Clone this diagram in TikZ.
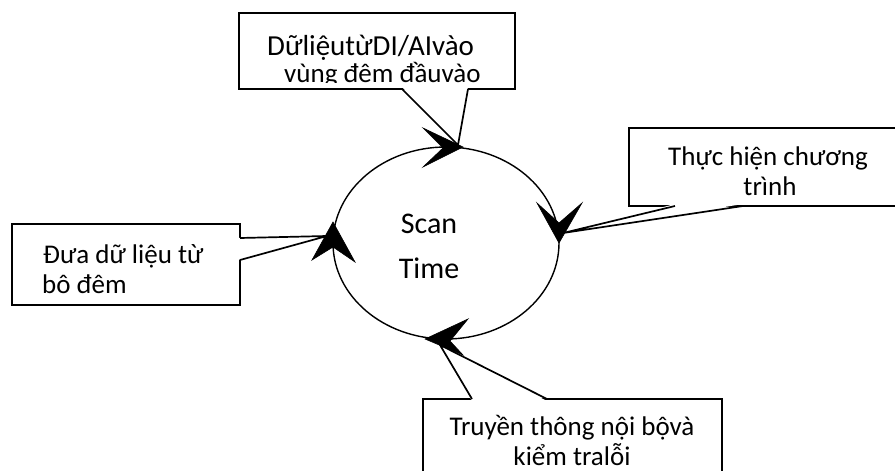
\documentclass[tikz,border=0pt]{standalone}
\usepackage{fontspec}
\setmainfont{Carlito}
\usetikzlibrary{calc}
\begin{document}
\begin{tikzpicture}[x=1pt,y=-1pt,
  callout/.style={draw, line width=1.8pt, fill=white, inner sep=0pt, outer sep=0pt},
  ptr/.style={line width=1.7pt, line join=miter},
  ring/.style={line width=1.4pt},
  headfill/.style={fill=black, draw=black, line width=0.6pt, line join=miter},
  txt/.style={font=\fontsize{27}{30}\selectfont, inner sep=0pt},
  big/.style={font=\fontsize{30}{34}\selectfont, inner sep=0pt}]
\clip (0,0) rectangle (895,471);
\fill[white] (0,0) rectangle (895,471);

% ---- callout boxes ----
\node[callout, minimum width=276pt, minimum height=76pt, anchor=north west] (b1) at (239,13) {};
\node[callout, minimum width=276pt, minimum height=78pt, anchor=north west] (b2) at (629,128) {};
\node[callout, minimum width=228pt, minimum height=81pt, anchor=north west] (b3) at (12,224) {};
\node[callout, minimum width=299pt, minimum height=90pt, anchor=north west] (b4) at (423,399) {};

% pointer tips
\coordinate (p1) at (458,145);
\coordinate (p2) at (563,233);
\coordinate (p3) at (327,236);
\coordinate (p4) at (440,345);

% pointer 1 (bottom of b1)
\fill[white] ($(b1.south west)+(163,-2)$) -- (p1) -- ($(b1.south west)+(229,-2)$) -- cycle;
\draw[ptr] ($(b1.south west)+(163,0)$) -- (p1) -- ($(b1.south west)+(229,0)$);
% pointer 2 (bottom of b2)
\fill[white] ($(b2.south west)+(46,-2)$) -- (p2) -- ($(b2.south west)+(114,-2)$) -- cycle;
\draw[ptr] ($(b2.south west)+(46,0)$) -- (p2) -- ($(b2.south west)+(114,0)$);
% pointer 3 (right of b3)
\fill[white] ($(b3.north east)+(-2,14)$) -- (p3) -- ($(b3.north east)+(-2,36)$) -- cycle;
\draw[ptr] ($(b3.north east)+(0,14)$) -- (p3) -- ($(b3.north east)+(0,36)$);
% pointer 4 (top of b4)
\fill[white] ($(b4.north west)+(49,2)$) -- (p4) -- ($(b4.north west)+(124,2)$) -- cycle;
\draw[ptr] ($(b4.north west)+(49,0)$) -- (p4) -- ($(b4.north west)+(124,0)$);

% ---- texts ----
\begin{scope}
  \clip (239,13) rectangle (515,82.5);
  \node[txt, font=\fontsize{29}{30}\selectfont, anchor=base west, text depth=1pt] (t1a) at (267,55) {DữliệutừDI/AIvào};
  \node[txt, anchor=base west, text height=19pt, text depth=0pt] (t1b) at (284,82) {vùng đêm đầuvào};
\end{scope}
\node[txt, anchor=base] (t2a) at (768,165) {Thực hiện chương};
\node[txt, anchor=base] (t2b) at (770,195) {trình};
\node[txt, anchor=base west] (t3a) at (43,263) {Đưa dữ liệu từ};
\node[txt, anchor=base west] (t3b) at (42,293) {bô đêm};
\node[txt, anchor=base] (t4a) at (572,435) {Truyền thông nội bộvà};
\node[txt, anchor=base] (t4b) at (572,465) {kiểm tralỗi};

% ---- scan time ring ----
\coordinate (c) at (446,243);
\draw[ring] (c) ellipse [x radius=113pt, y radius=96pt];
\node[big, anchor=base] (s1) at (429,233) {Scan};
\node[big, anchor=base] (s2) at (429,278) {Time};

% ---- arrowheads on the ring ----
\coordinate (a1) at (463,147);
\coordinate (a2) at (559,243);
\coordinate (a3) at (425,339);
\coordinate (a4) at (333,222);
\draw[headfill] (a1) -- ++(-40,-19) -- ++(20,20) -- ++(-20,19) -- cycle;
\draw[headfill] (a2) -- ++(-22,-40) -- ++(22,20) -- ++(23,-20) -- cycle;
\draw[headfill] (a3) -- ++(43,-20) -- ++(-18,22) -- ++(13,14) -- cycle;
\draw[headfill] (a4) -- ++(-21,38) -- ++(21,-13) -- ++(22,15) -- cycle;
\end{tikzpicture}
\end{document}
